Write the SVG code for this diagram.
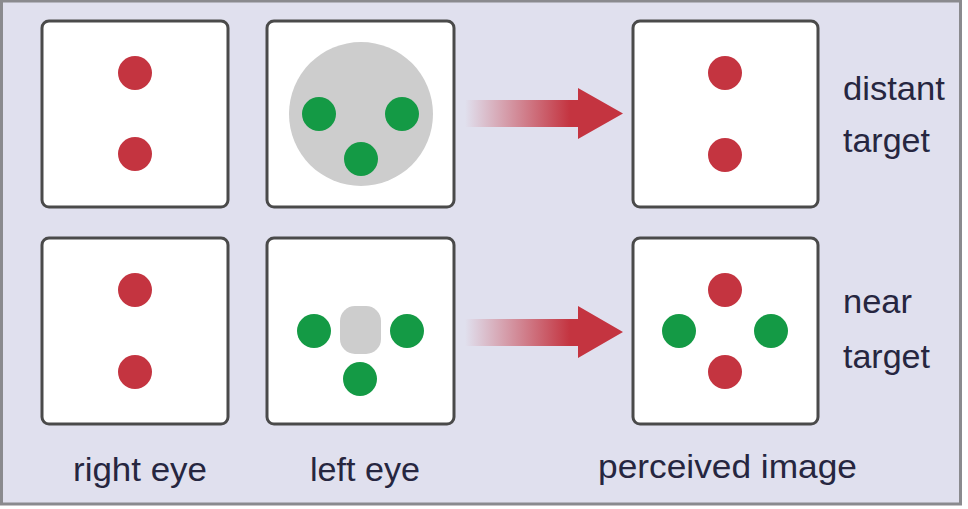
<svg xmlns="http://www.w3.org/2000/svg" width="968" height="509" viewBox="0 0 968 509">
<style>
.box{fill:#ffffff;stroke:#4a4a4a;stroke-width:3}
.red{fill:#c43440}
.green{fill:#149a45}
.gray{fill:#cdcdcd}
.lbl{font-family:"Liberation Sans",Arial,sans-serif;font-size:34px;fill:#262640}
</style>
<defs>
<linearGradient id="fade" gradientUnits="userSpaceOnUse" x1="465" y1="0" x2="570" y2="0">
<stop offset="0" stop-color="#c43440" stop-opacity="0"/>
<stop offset="1" stop-color="#c43440" stop-opacity="1"/>
</linearGradient>
</defs>
<rect x="0" y="0" width="968" height="509" fill="#ffffff"/>
<rect x="1.5" y="1" width="959" height="503" fill="#e0e0ee" stroke="#8a8a8e" stroke-width="3"/>

<g id="right-eye-distant">
<rect class="box" x="42" y="21" width="186" height="186" rx="7"/>
<circle class="red" cx="135" cy="73" r="17"/>
<circle class="red" cx="135" cy="154" r="17"/>
</g>
<g id="left-eye-distant">
<rect class="box" x="267" y="21" width="187" height="186" rx="7"/>
<circle class="gray" cx="361" cy="114" r="72"/>
<circle class="green" cx="319" cy="114" r="17"/>
<circle class="green" cx="402" cy="114" r="17"/>
<circle class="green" cx="361" cy="159" r="17"/>
</g>
<g id="perceived-distant">
<rect class="box" x="633" y="21" width="185" height="186" rx="7"/>
<circle class="red" cx="725" cy="73" r="17"/>
<circle class="red" cx="725" cy="155" r="17"/>
</g>

<g id="right-eye-near">
<rect class="box" x="42" y="238" width="186" height="186" rx="7"/>
<circle class="red" cx="135" cy="290" r="17"/>
<circle class="red" cx="135" cy="372" r="17"/>
</g>
<g id="left-eye-near">
<rect class="box" x="267" y="238" width="187" height="186" rx="7"/>
<rect class="gray" x="340" y="306" width="41" height="48" rx="15"/>
<circle class="green" cx="314" cy="331" r="17"/>
<circle class="green" cx="407" cy="331" r="17"/>
<circle class="green" cx="360" cy="379" r="17"/>
</g>
<g id="perceived-near">
<rect class="box" x="633" y="238" width="185" height="186" rx="7"/>
<circle class="red" cx="725" cy="290" r="17"/>
<circle class="red" cx="725" cy="372" r="17"/>
<circle class="green" cx="679" cy="331" r="17"/>
<circle class="green" cx="771" cy="331" r="17"/>
</g>

<g id="connectors" fill="url(#fade)">
<path d="M465 100 H578 V88 L623 113.5 L578 139 V127 H465 Z"/>
<path d="M465 319 H578 V306 L623 332 L578 358 V346 H465 Z"/>
</g>

<g id="labels">
<text class="lbl" x="843" y="100" textLength="102" lengthAdjust="spacingAndGlyphs">distant</text>
<text class="lbl" x="843" y="152" textLength="87" lengthAdjust="spacingAndGlyphs">target</text>
<text class="lbl" x="843" y="313" textLength="69" lengthAdjust="spacingAndGlyphs">near</text>
<text class="lbl" x="843" y="368" textLength="87" lengthAdjust="spacingAndGlyphs">target</text>
<text class="lbl" x="73" y="481" textLength="134" lengthAdjust="spacingAndGlyphs">right eye</text>
<text class="lbl" x="310" y="481" textLength="110" lengthAdjust="spacingAndGlyphs">left eye</text>
<text class="lbl" x="598" y="478" textLength="259" lengthAdjust="spacingAndGlyphs">perceived image</text>
</g>
</svg>
